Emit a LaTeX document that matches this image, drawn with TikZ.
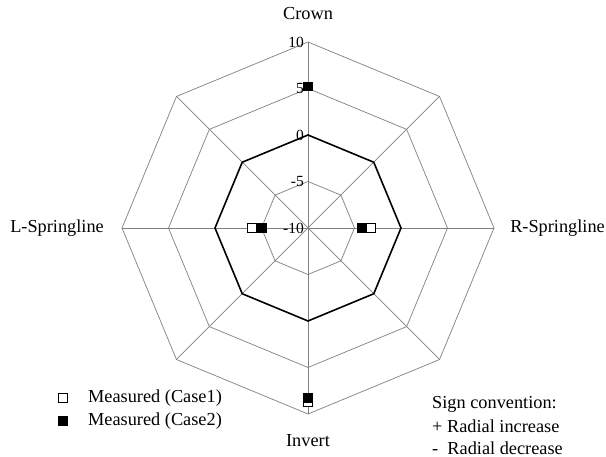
\documentclass[tikz,border=0pt]{standalone}
\usepackage{fontspec}
\setmainfont{Liberation Serif}
\begin{document}
\begin{tikzpicture}[x=1pt,y=1pt,
  grid/.style={draw=black!50, line width=0.7pt},
  zero/.style={draw=black, line width=1.6pt},
  lbl/.style={font=\fontsize{18.3}{21}\selectfont, inner sep=0pt},
  tick/.style={font=\fontsize{15.5}{18}\selectfont, inner sep=0pt, anchor=east},
  hollow/.style={draw=black, fill=white, line width=0.6pt, minimum size=8.5pt, inner sep=0pt},
  filled/.style={draw=black, fill=black, line width=0.6pt, minimum size=8.5pt, inner sep=0pt}]
\useasboundingbox (0,0) rectangle (606,457);
\fill[white] (0,0) rectangle (606,457);
\begin{scope}[shift={(308,229)}]
  % axes
  \foreach \a in {0,45,...,315} \draw[grid] (0,0) -- (\a:186);
  % rings
  \foreach \v in {-5,5,10} {
    \pgfmathsetmacro{\r}{(\v+10)*9.3}
    \draw[grid] (0:\r) \foreach \a in {45,90,...,315} { -- (\a:\r) } -- cycle;
  }
  \draw[zero] (0:93) \foreach \a in {45,90,...,315} { -- (\a:93) } -- cycle;
  % tick labels
  \node[tick] (t10) at (-4,186) {10};
  \node[tick] (t5) at (-4,139.5) {5};
  \node[tick] (t0) at (-4,93) {0};
  \node[tick] (tm5) at (-4,46.5) {-5};
  \node[tick] (tm10) at (-4,0) {-10};
  % Case1 (hollow)
  \node[hollow] (c1t) at (90:141.5) {};
  \node[hollow] (c1r) at (0:63) {};
  \node[hollow] (c1b) at (270:174) {};
  \node[hollow] (c1l) at (180:56) {};
  % Case2 (filled)
  \node[filled] (c2t) at (90:141.5) {};
  \node[filled] (c2r) at (0:54) {};
  \node[filled] (c2b) at (270:170) {};
  \node[filled] (c2l) at (180:46) {};
\end{scope}
% axis labels
\node[lbl] (crown) at (308,443) {Crown};
\node[lbl, anchor=east] (rs) at (605,229) {R-Springline};
\node[lbl, anchor=east] (ls) at (104,229) {L-Springline};
\node[lbl] (inv) at (308,16) {Invert};
% legend
\node[hollow] (lg1) at (63,59) {};
\node[filled] (lg2) at (63,36) {};
\node[lbl, anchor=west] (lt1) at (88,59) {Measured (Case1)};
\node[lbl, anchor=west] (lt2) at (88,36) {Measured (Case2)};
% sign convention
\node[lbl, anchor=west] (s1) at (432,53) {Sign convention:};
\node[lbl, anchor=west] (s2) at (432,31) {+ Radial increase};
\node[lbl, anchor=west] (s3) at (432,9) {-\ \ Radial decrease};
\end{tikzpicture}
\end{document}
